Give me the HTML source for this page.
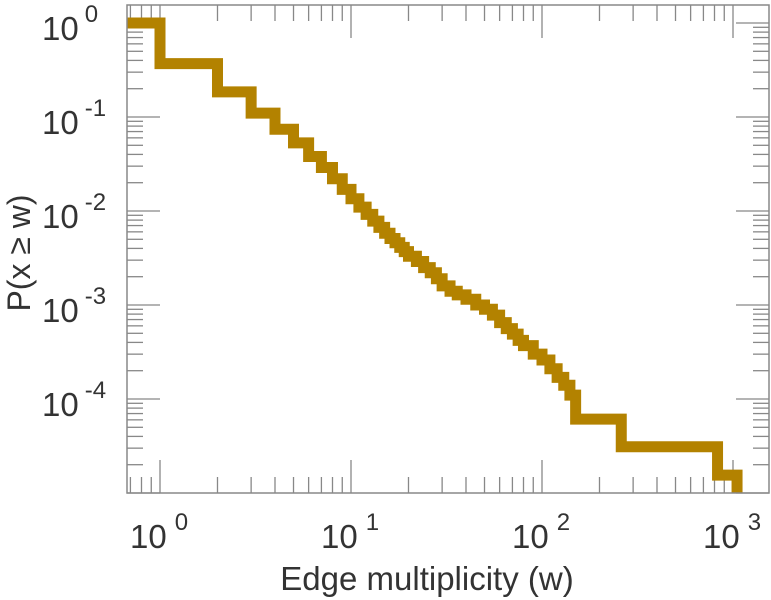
<!DOCTYPE html>
<html><head><meta charset="utf-8"><style>
html,body{margin:0;padding:0;background:#fff;}
svg{display:block;font-family:"Liberation Sans",Arial,sans-serif;}
</style></head><body>
<svg id="chart" width="771" height="600" viewBox="0 0 771 600">
<defs><clipPath id="clip"><rect x="127" y="5" width="642" height="488"/></clipPath></defs>
<g id="ticks"></g>
<g id="series" clip-path="url(#clip)"></g>
<rect x="127" y="5" width="642" height="488" fill="none" stroke="#888" stroke-width="1.5"/>
<g id="labels"></g>
<text x="427" y="590" font-size="33" fill="#333" text-anchor="middle">Edge multiplicity (w)</text>
<text transform="translate(30,253) rotate(-90)" font-size="32" fill="#333" text-anchor="middle">P(x ≥ w)</text>
</svg>
<script>
const wValues=[1,2,3,4,5,6,7,8,9,10,11,12,13,14,15,16,17,18,19,20,22,24,26,28,30,33,36,40,45,50,55,60,65,70,75,80,90,100,110,120,130,140,150,260,830];
const pValues=[0.37,0.185,0.11,0.074,0.053,0.038,0.029,0.022,0.017,0.0135,0.011,0.0092,0.0078,0.0067,0.0058,0.0051,0.0046,0.0041,0.0037,0.0033,0.0029,0.0025,0.0022,0.0019,0.0016,0.0014,0.00128,0.00115,0.001,0.0009,0.00078,0.00065,0.00056,0.00049,0.00042,0.00037,0.0003,0.00026,0.00021,0.00017,0.00014,0.00011,0.000061,0.000031,0.0000155];
const startP=1;
const lastW=1050;
const xTickExps=[0,1,2,3];
const yTickExps=[0,-1,-2,-3,-4];
const NS="http://www.w3.org/2000/svg";
function xs(w){return 160+191*Math.log10(w);}
function ys(p){return 23-94*Math.log10(p);}
function mk(tag,attrs,parent){const e=document.createElementNS(NS,tag);for(const k in attrs)e.setAttribute(k,attrs[k]);parent.appendChild(e);return e;}
const series=document.getElementById('series');
let d='M'+xs(0.5)+','+ys(startP);
let prevP=startP;
for(let i=0;i<wValues.length;i++){const x=xs(wValues[i]);d+=' L'+x+','+ys(prevP)+' L'+x+','+ys(pValues[i]);prevP=pValues[i];}
d+=' L'+xs(lastW)+','+ys(prevP)+' L'+xs(lastW)+',520';
const path=mk('path',{d:d,fill:'none',stroke:'#b38200','stroke-width':11,'stroke-linejoin':'miter'},series);


const ticks=document.getElementById('ticks');
const tc={stroke:'#888','stroke-width':1.3};
for(let e=-1;e<=3;e++){for(let m=1;m<10;m++){const v=m*Math.pow(10,e);const x=xs(v);if(x<127||x>769)continue;const L=m===1?33:16;
const t1=mk('line',Object.assign({x1:x,x2:x,y1:493,y2:493-L},tc),ticks);
const t2=mk('line',Object.assign({x1:x,x2:x,y1:5,y2:5+L},tc),ticks);}}
for(let e=-5;e<=0;e++){for(let m=1;m<10;m++){const v=m*Math.pow(10,e);const y=ys(v);if(y<5||y>493)continue;const L=m===1?33:16;
const t1=mk('line',Object.assign({x1:127,x2:127+L,y1:y,y2:y},tc),ticks);
const t2=mk('line',Object.assign({x1:769,x2:769-L,y1:y,y2:y},tc),ticks);}}
const labels=document.getElementById('labels');
xTickExps.forEach(e=>{const x=xs(Math.pow(10,e));
const t=mk('text',{x:x-30,y:548,'font-size':33,fill:'#333'},labels);


t.textContent='10';
const s=mk('tspan',{dx:8,dy:-18,'font-size':24},t);s.textContent=String(e);});
yTickExps.forEach(e=>{const y=ys(Math.pow(10,e));
const t=mk('text',{x:42,y:y+17,'font-size':33,fill:'#333'},labels);


t.textContent='10';
const s=mk('tspan',{dx:6,dy:-18,'font-size':24},t);s.textContent=(e<0?'-'+(-e):String(e));});
</script>
</body></html>
